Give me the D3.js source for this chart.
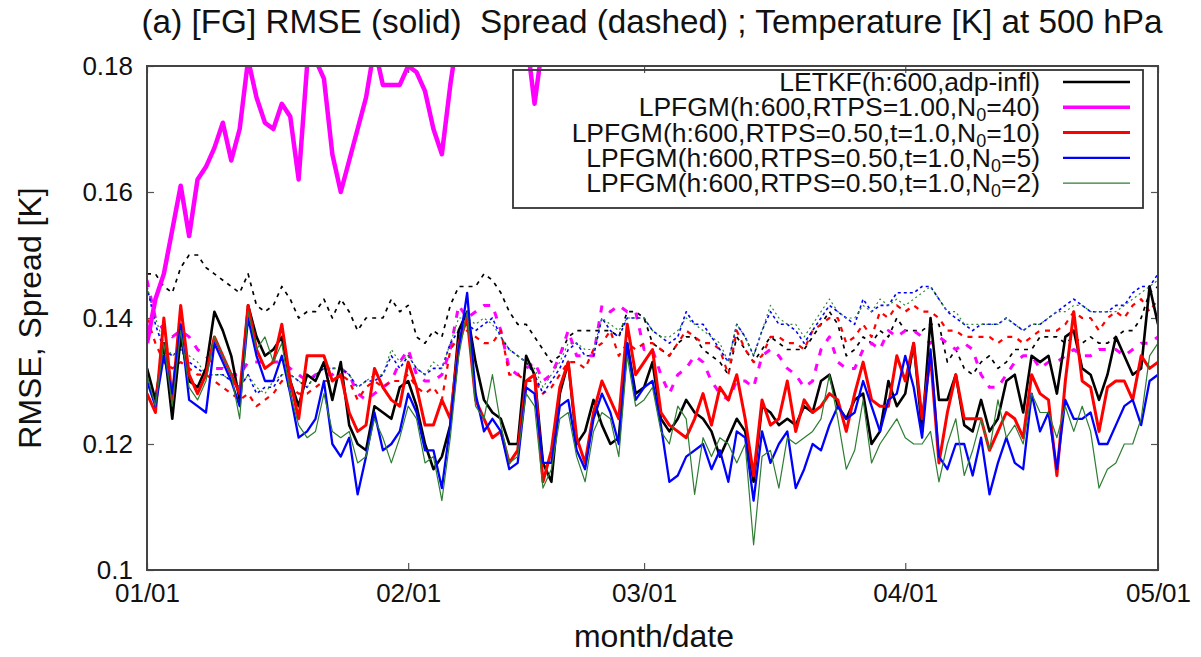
<!DOCTYPE html>
<html>
<head>
<meta charset="utf-8">
<script src="https://cdn.jsdelivr.net/npm/d3@7"></script>
<style>
  body { margin: 0; background: #fff; }
  text { font-family: "Liberation Sans", Arial, sans-serif; fill: #111; }
</style>
</head>
<body>
<svg id="chart" width="1201" height="657"></svg>
<script>
// daily values, 01/01 .. 05/01 (121 days)
const startDate = new Date(2019, 0, 1);
const endDate = new Date(2019, 4, 1);
const days = d3.timeDay.range(startDate, d3.timeDay.offset(endDate, 1));

const monthTicks = ["01/01", "02/01", "03/01", "04/01", "05/01"];
const yTicks = [0.1, 0.12, 0.14, 0.16, 0.18];

// RMSE (solid)
const letkfRmse = [
  0.132,0.127,0.136,0.124,0.137,0.130,0.129,0.132,0.141,0.138,0.134,0.127,0.142,0.137,0.134,0.135,0.137,0.130,0.126,0.131,
  0.130,0.133,0.127,0.133,0.123,0.120,0.119,0.126,0.125,0.124,0.129,0.130,0.126,0.120,0.116,0.118,0.123,0.138,0.141,0.133,
  0.127,0.125,0.124,0.120,0.120,0.134,0.131,0.117,0.114,0.128,0.133,0.120,0.122,0.127,0.123,0.120,0.121,0.136,0.128,0.129,
  0.133,0.124,0.122,0.124,0.127,0.125,0.124,0.122,0.118,0.121,0.124,0.122,0.114,0.126,0.125,0.123,0.124,0.123,0.126,
  0.125,0.130,0.131,0.126,0.124,0.127,0.128,0.120,0.122,0.130,0.126,0.128,0.136,0.122,0.140,0.127,0.127,0.131,0.123,0.122,
  0.127,0.122,0.124,0.130,0.131,0.125,0.134,0.133,0.134,0.128,0.137,0.138,0.132,0.131,0.127,0.131,0.137,0.134,0.131,0.132,0.145,0.139
];
// N0=40: leaves the frame early in February (values above 0.18 are clipped)
const pf40Rmse = [
  0.136,0.143,0.147,0.154,0.161,0.153,0.162,0.164,0.167,0.171,0.165,0.170,0.181,0.175,0.171,0.170,0.174,0.172,0.162,0.180,
  0.181,0.178,0.166,0.160,0.165,0.170,0.175,0.183,0.177,0.177,0.177,0.180,0.179,0.176,0.170,0.166,0.177,0.186,0.190,0.192,
  0.190,0.191,0.193,0.190,0.188,0.185,0.174,0.184
];
const pf10Rmse = [
  0.128,0.125,0.140,0.127,0.142,0.131,0.128,0.131,0.137,0.134,0.131,0.128,0.142,0.135,0.132,0.133,0.139,0.130,0.124,0.134,
  0.134,0.134,0.130,0.131,0.125,0.122,0.123,0.132,0.129,0.127,0.126,0.133,0.129,0.123,0.123,0.127,0.124,0.136,0.140,0.127,
  0.124,0.121,0.122,0.117,0.119,0.130,0.131,0.114,0.119,0.129,0.133,0.121,0.117,0.125,0.130,0.127,0.124,0.139,0.131,0.133,
  0.135,0.125,0.123,0.122,0.121,0.124,0.128,0.123,0.129,0.127,0.131,0.124,0.115,0.127,0.123,0.124,0.130,0.122,0.127,
  0.125,0.126,0.128,0.127,0.122,0.128,0.133,0.127,0.126,0.126,0.134,0.130,0.136,0.124,0.134,0.117,0.125,0.131,0.124,0.124,
  0.124,0.119,0.122,0.125,0.124,0.121,0.131,0.128,0.127,0.115,0.130,0.141,0.130,0.129,0.122,0.129,0.130,0.130,0.127,0.134,0.132,0.133
];
const pf5Rmse = [
  0.130,0.126,0.134,0.128,0.139,0.127,0.126,0.125,0.136,0.133,0.130,0.126,0.140,0.134,0.130,0.130,0.134,0.128,0.121,0.122,
  0.124,0.130,0.120,0.118,0.121,0.112,0.118,0.125,0.119,0.120,0.122,0.128,0.125,0.119,0.119,0.113,0.123,0.135,0.144,0.128,
  0.122,0.124,0.122,0.116,0.117,0.129,0.128,0.117,0.117,0.126,0.127,0.119,0.116,0.124,0.128,0.125,0.120,0.136,0.127,0.129,
  0.130,0.123,0.114,0.115,0.118,0.119,0.120,0.116,0.119,0.114,0.122,0.121,0.111,0.122,0.117,0.120,0.122,0.113,0.116,
  0.120,0.119,0.123,0.126,0.124,0.125,0.130,0.126,0.122,0.127,0.128,0.134,0.129,0.121,0.135,0.118,0.116,0.120,0.120,0.115,
  0.121,0.112,0.117,0.121,0.117,0.116,0.128,0.122,0.125,0.116,0.127,0.124,0.124,0.125,0.120,0.120,0.123,0.126,0.127,0.123,0.130,0.131
];
const pf2Rmse = [
  0.131,0.126,0.136,0.126,0.138,0.129,0.127,0.130,0.137,0.134,0.131,0.124,0.141,0.135,0.137,0.133,0.136,0.128,0.123,0.121,
  0.122,0.128,0.122,0.121,0.122,0.117,0.118,0.124,0.121,0.117,0.121,0.126,0.124,0.117,0.118,0.111,0.121,0.134,0.141,0.126,
  0.124,0.131,0.123,0.117,0.118,0.128,0.126,0.113,0.116,0.124,0.125,0.118,0.114,0.122,0.125,0.124,0.118,0.134,0.126,0.127,
  0.129,0.122,0.120,0.126,0.124,0.112,0.121,0.118,0.121,0.120,0.117,0.120,0.104,0.118,0.119,0.113,0.121,0.120,0.121,
  0.122,0.124,0.131,0.124,0.116,0.119,0.127,0.117,0.120,0.122,0.124,0.121,0.120,0.120,0.122,0.114,0.120,0.124,0.115,0.119,
  0.124,0.119,0.127,0.121,0.123,0.120,0.128,0.125,0.125,0.121,0.126,0.122,0.126,0.122,0.113,0.116,0.117,0.120,0.120,0.124,0.134,0.136
];

// Spread (dashed)
const letkfSprd = [
  0.147,0.147,0.145,0.144,0.148,0.150,0.150,0.148,0.147,0.146,0.145,0.144,0.147,0.142,0.141,0.142,0.145,0.143,0.140,0.141,
  0.141,0.143,0.140,0.143,0.141,0.138,0.140,0.140,0.140,0.143,0.141,0.142,0.137,0.136,0.138,0.137,0.142,0.145,0.145,0.145,
  0.147,0.146,0.144,0.141,0.139,0.139,0.137,0.135,0.133,0.134,0.137,0.138,0.138,0.138,0.138,0.138,0.137,0.141,0.141,0.140,
  0.136,0.135,0.134,0.136,0.137,0.137,0.135,0.134,0.133,0.131,0.137,0.135,0.133,0.135,0.137,0.136,0.135,0.135,0.135,
  0.137,0.139,0.141,0.139,0.134,0.135,0.137,0.136,0.138,0.137,0.140,0.138,0.138,0.138,0.139,0.139,0.133,0.135,0.132,0.131,
  0.133,0.134,0.132,0.133,0.135,0.135,0.135,0.137,0.137,0.137,0.136,0.137,0.136,0.137,0.136,0.136,0.137,0.138,0.138,0.140,0.144,0.145
];
const pf40Sprd = [
  0.146,0.140,0.138,0.137,0.138,0.137,0.135,0.134,0.132,0.132,0.131,0.131,0.133,0.133,0.133,0.133,0.133,0.132,0.131,0.130,
  0.131,0.131,0.131,0.132,0.131,0.128,0.127,0.128,0.129,0.130,0.133,0.135,0.131,0.130,0.130,0.131,0.135,0.142,0.140,0.141,
  0.142,0.142,0.138,0.132,0.131,0.132,0.133,0.130,0.131,0.134,0.138,0.134,0.134,0.134,0.142,0.141,0.142,0.141,0.141,0.135,
  0.135,0.131,0.128,0.131,0.132,0.134,0.133,0.130,0.128,0.127,0.130,0.130,0.129,0.134,0.135,0.134,0.132,0.131,0.129,
  0.130,0.135,0.137,0.133,0.132,0.132,0.135,0.136,0.135,0.138,0.137,0.138,0.138,0.137,0.136,0.137,0.136,0.135,0.136,0.135,
  0.131,0.129,0.129,0.131,0.133,0.134,0.134,0.132,0.133,0.133,0.134,0.135,0.134,0.134,0.135,0.135,0.135,0.134,0.135,0.136,0.136,0.137
];
const pf10Sprd = [
  0.140,0.136,0.133,0.132,0.133,0.132,0.131,0.131,0.130,0.129,0.128,0.127,0.128,0.126,0.127,0.128,0.130,0.129,0.128,0.128,
  0.129,0.130,0.130,0.131,0.130,0.127,0.129,0.130,0.129,0.130,0.130,0.131,0.129,0.128,0.129,0.127,0.135,0.137,0.138,0.137,
  0.136,0.136,0.138,0.131,0.131,0.130,0.130,0.128,0.129,0.131,0.133,0.133,0.132,0.135,0.136,0.138,0.134,0.136,0.135,0.136,
  0.136,0.135,0.134,0.136,0.138,0.137,0.136,0.136,0.135,0.131,0.138,0.135,0.133,0.134,0.137,0.137,0.136,0.136,0.135,
  0.138,0.139,0.140,0.140,0.136,0.137,0.139,0.137,0.141,0.140,0.142,0.141,0.142,0.141,0.141,0.140,0.138,0.138,0.137,0.137,
  0.137,0.137,0.136,0.137,0.137,0.136,0.137,0.138,0.138,0.138,0.139,0.141,0.140,0.140,0.138,0.140,0.141,0.140,0.142,0.143,0.141,0.143
];
const pf5Sprd = [
  0.145,0.139,0.135,0.134,0.135,0.133,0.132,0.131,0.131,0.131,0.130,0.129,0.131,0.128,0.129,0.129,0.131,0.131,0.130,0.129,
  0.131,0.132,0.132,0.132,0.131,0.129,0.130,0.130,0.131,0.134,0.132,0.134,0.132,0.131,0.132,0.132,0.136,0.138,0.139,0.138,
  0.139,0.140,0.137,0.135,0.134,0.133,0.131,0.128,0.130,0.132,0.135,0.136,0.134,0.134,0.140,0.138,0.137,0.140,0.140,0.140,
  0.138,0.137,0.136,0.137,0.141,0.139,0.139,0.137,0.135,0.133,0.139,0.137,0.134,0.138,0.141,0.139,0.139,0.138,0.136,
  0.138,0.140,0.142,0.141,0.140,0.139,0.143,0.141,0.142,0.142,0.144,0.144,0.144,0.145,0.145,0.143,0.141,0.140,0.139,0.138,
  0.139,0.139,0.139,0.140,0.139,0.138,0.139,0.139,0.140,0.141,0.142,0.143,0.142,0.141,0.141,0.141,0.142,0.142,0.144,0.145,0.145,0.147
];
const pf2Sprd = [
  0.145,0.140,0.136,0.134,0.135,0.134,0.133,0.131,0.131,0.131,0.130,0.129,0.131,0.129,0.128,0.130,0.131,0.131,0.130,0.129,
  0.131,0.132,0.132,0.132,0.131,0.129,0.130,0.131,0.131,0.135,0.133,0.134,0.132,0.131,0.133,0.132,0.136,0.140,0.140,0.139,
  0.140,0.139,0.137,0.135,0.134,0.133,0.132,0.129,0.131,0.133,0.136,0.136,0.135,0.135,0.140,0.139,0.138,0.140,0.140,0.140,
  0.138,0.137,0.137,0.138,0.140,0.139,0.138,0.137,0.136,0.133,0.139,0.137,0.134,0.138,0.142,0.140,0.139,0.139,0.137,
  0.139,0.141,0.143,0.141,0.140,0.140,0.142,0.141,0.143,0.142,0.143,0.142,0.143,0.144,0.145,0.143,0.141,0.141,0.139,0.139,
  0.139,0.139,0.139,0.140,0.139,0.138,0.139,0.139,0.140,0.141,0.141,0.142,0.142,0.141,0.141,0.141,0.141,0.142,0.143,0.144,0.145,0.146
];

const margin = {top: 66, right: 43, bottom: 87, left: 147};
const W = 1201, H = 657;
const width = W - margin.left - margin.right;
const height = H - margin.top - margin.bottom;

const svg = d3.select("#chart");

const x = d3.scaleTime().domain([startDate, endDate]).range([0, width]);
const y = d3.scaleLinear().domain([0.1, 0.18]).range([height, 0]);

const g = svg.append("g").attr("transform", `translate(${margin.left},${margin.top})`);

svg.append("defs").append("clipPath").attr("id", "plotClip")
  .append("rect").attr("width", width).attr("height", height);

const monthDates = d3.timeMonth.range(startDate, d3.timeDay.offset(endDate, 1));

// axes, gnuplot style: ticks inside, mirrored on top/right
const xAxis = g.append("g").attr("transform", `translate(0,${height})`)
  .call(d3.axisBottom(x).tickValues(monthDates).tickFormat((d, i) => monthTicks[i]).tickSize(-7).tickPadding(14));
const xTop = g.append("g")
  .call(d3.axisTop(x).tickValues(monthDates).tickFormat("").tickSize(-7));
const yAxis = g.append("g")
  .call(d3.axisLeft(y).tickValues(yTicks).tickFormat(d3.format("~g")).tickSize(-7).tickPadding(14));
const yRight = g.append("g").attr("transform", `translate(${width},0)`)
  .call(d3.axisRight(y).tickValues(yTicks).tickFormat("").tickSize(-7));

[xAxis, xTop, yAxis, yRight].forEach(a => {
  a.select(".domain").remove();
  a.selectAll(".tick line").attr("stroke", "#555").attr("stroke-width", 1.2);
  a.selectAll("text").style("font-size", "26px").attr("fill", "#111");
});

const line = d3.line()
  .x((d, i) => x(days[i]))
  .y(d => y(d));

const plot = g.append("g").attr("clip-path", "url(#plotClip)");

const dashedSeries = [
  {values: letkfSprd, color: "#000000", w: 1.7, dash: "4,5"},
  {values: pf40Sprd, color: "#ff00ff", w: 3, dash: "7,9"},
  {values: pf10Sprd, color: "#ff0000", w: 2.2, dash: "5,6"},
  {values: pf5Sprd, color: "#0000ff", w: 1.6, dash: "3,3"},
  {values: pf2Sprd, color: "#2e8b2e", w: 1.2, dash: "2,3"}
];
const solidSeries = [
  {values: letkfRmse, color: "#000000", w: 2.6, label: ["LETKF(h:600,adp-infl)"]},
  {values: pf40Rmse, color: "#ff00ff", w: 4.5, label: ["LPFGM(h:600,RTPS=1.00,N", "0", "=40)"]},
  {values: pf10Rmse, color: "#ff0000", w: 3, label: ["LPFGM(h:600,RTPS=0.50,t=1.0,N", "0", "=10)"]},
  {values: pf5Rmse, color: "#0000ff", w: 2.3, label: ["LPFGM(h:600,RTPS=0.50,t=1.0,N", "0", "=5)"]},
  {values: pf2Rmse, color: "#2e7d32", w: 1.2, label: ["LPFGM(h:600,RTPS=0.50,t=1.0,N", "0", "=2)"]}
];

dashedSeries.forEach(s => {
  plot.append("path").datum(s.values)
    .attr("d", line).attr("fill", "none")
    .attr("stroke", s.color).attr("stroke-width", s.w)
    .attr("stroke-dasharray", s.dash).attr("stroke-linejoin", "round");
});
solidSeries.forEach(s => {
  plot.append("path").datum(s.values)
    .attr("d", line).attr("fill", "none")
    .attr("stroke", s.color).attr("stroke-width", s.w)
    .attr("stroke-linejoin", "round");
});

// frame
g.append("rect").attr("width", width).attr("height", height)
  .attr("fill", "none").attr("stroke", "#444").attr("stroke-width", 2);

// legend
const legend = svg.append("g").attr("transform", "translate(513,70)");
legend.append("rect").attr("width", 630).attr("height", 138)
  .attr("fill", "none").attr("stroke", "#333").attr("stroke-width", 1.8);
solidSeries.forEach((s, i) => {
  const cy = 12 + i * 25.3;
  const t = legend.append("text").attr("x", 527).attr("y", cy + 9)
    .attr("text-anchor", "end").style("font-size", "26.5px");
  t.append("tspan").text(s.label[0]);
  if (s.label.length > 1) {
    t.append("tspan").attr("dy", 5).style("font-size", "18px").text(s.label[1]);
    t.append("tspan").attr("dy", -5).text(s.label[2]);
  }
  legend.append("line").attr("x1", 550).attr("x2", 617).attr("y1", cy).attr("y2", cy)
    .attr("stroke", s.color).attr("stroke-width", Math.min(s.w, 3.5));
});

// titles
svg.append("text").attr("x", 652).attr("y", 33).attr("text-anchor", "middle")
  .style("font-size", "33.3px").style("white-space", "pre")
  .text("(a) [FG] RMSE (solid)  Spread (dashed) ; Temperature [K] at 500 hPa");
svg.append("text").attr("x", 654).attr("y", 647).attr("text-anchor", "middle")
  .style("font-size", "32px").text("month/date");
svg.append("text").attr("transform", "translate(41,318) rotate(-90)").attr("text-anchor", "middle")
  .style("font-size", "32px").text("RMSE, Spread [K]");
</script>
</body>
</html>
